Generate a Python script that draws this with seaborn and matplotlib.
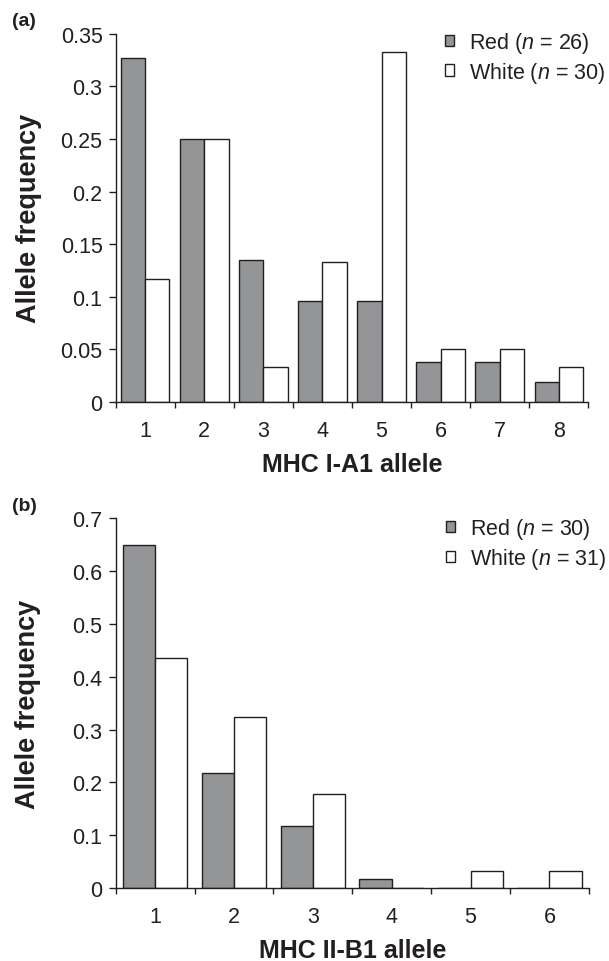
import matplotlib
matplotlib.use('Agg')
import matplotlib.pyplot as plt
from matplotlib.patches import Patch
from matplotlib.ticker import FixedLocator, FuncFormatter
import pandas as pd
import seaborn as sns

# Panel (a): MHC I-A1
alleles_a = ['1', '2', '3', '4', '5', '6', '7', '8']
red_a = [0.327, 0.250, 0.135, 0.096, 0.096, 0.038, 0.038, 0.019]
white_a = [0.117, 0.250, 0.033, 0.133, 0.333, 0.050, 0.050, 0.033]
labels_a = ['Red ($n$ = 26)', 'White ($n$ = 30)']
yticks_a = [0, 0.05, 0.1, 0.15, 0.2, 0.25, 0.3, 0.35]

# Panel (b): MHC II-B1
alleles_b = ['1', '2', '3', '4', '5', '6']
red_b = [0.650, 0.217, 0.117, 0.017, 0.0, 0.0]
white_b = [0.435, 0.323, 0.177, 0.0, 0.032, 0.032]
labels_b = ['Red ($n$ = 30)', 'White ($n$ = 31)']
yticks_b = [0, 0.1, 0.2, 0.3, 0.4, 0.5, 0.6, 0.7]

GREY = '#939598'
EDGE = '#231f20'
INK = '#231f20'

sns.set_style('ticks')
plt.rcParams['font.family'] = ['Liberation Sans', 'DejaVu Sans']
plt.rcParams['mathtext.fontset'] = 'custom'
plt.rcParams['mathtext.rm'] = 'Liberation Sans'
plt.rcParams['mathtext.it'] = 'Liberation Sans:italic'
plt.rcParams['text.color'] = INK
plt.rcParams['axes.labelcolor'] = INK
plt.rcParams['xtick.color'] = INK
plt.rcParams['ytick.color'] = INK


def draw_panel(ax, alleles, red, white, labels, yticks, xlabel, leg_top):
    df = pd.DataFrame({
        'allele': alleles * 2,
        'freq': red + white,
        'group': [labels[0]] * len(alleles) + [labels[1]] * len(alleles),
    })
    sns.barplot(data=df, x='allele', y='freq', hue='group', hue_order=labels,
                palette=[GREY, 'white'], edgecolor=EDGE, linewidth=1.0,
                width=0.82, gap=0, legend=False, ax=ax)
    n = len(alleles)
    ax.set_xlim(-0.5, n - 0.5)
    ax.set_ylim(0, yticks[-1])
    ax.set_yticks(yticks)
    ax.yaxis.set_major_formatter(FuncFormatter(lambda v, _: f'{v:g}'))
    # ticks sit between the categories, labels centred under them
    ax.xaxis.set_minor_locator(FixedLocator([i - 0.5 for i in range(n + 1)]))
    ax.tick_params(axis='x', which='major', length=0, pad=13, labelsize=15.5)
    ax.tick_params(axis='x', which='minor', length=4.5, width=1, direction='out')
    ax.tick_params(axis='y', length=5, width=1, pad=4.5, labelsize=15.5)
    for side in ('top', 'right'):
        ax.spines[side].set_visible(False)
    for side in ('left', 'bottom'):
        ax.spines[side].set_linewidth(1)
        ax.spines[side].set_color(EDGE)
    ax.set_xlabel(xlabel, fontsize=18, fontweight='bold', labelpad=8)
    ax.set_ylabel('Allele frequency', fontsize=19.5, fontweight='bold')
    ax.yaxis.set_label_coords(-0.157, 0.5)
    handles = [Patch(facecolor=GREY, edgecolor=EDGE, linewidth=1, label=labels[0]),
               Patch(facecolor='white', edgecolor=EDGE, linewidth=1, label=labels[1])]
    ax.legend(handles=handles, loc='upper left', bbox_to_anchor=(0.697, leg_top),
              frameon=False, fontsize=15.5, handlelength=0.42, handleheight=0.42,
              handletextpad=0.7, labelspacing=0.22, borderpad=0, borderaxespad=0)


fig = plt.figure(figsize=(6.09, 9.62), dpi=100)
ax_a = fig.add_axes([0.190, 0.581, 0.776, 0.383])
ax_b = fig.add_axes([0.190, 0.076, 0.777, 0.384])

draw_panel(ax_a, alleles_a, red_a, white_a, labels_a, yticks_a, 'MHC I-A1 allele', 1.01)
draw_panel(ax_b, alleles_b, red_b, white_b, labels_b, yticks_b, 'MHC II-B1 allele', 1.006)

fig.text(0.019, 0.978, '(a)', fontsize=14, fontweight='bold', va='center', ha='left')
fig.text(0.019, 0.474, '(b)', fontsize=14, fontweight='bold', va='center', ha='left')

fig.savefig('out.png', dpi=100)
